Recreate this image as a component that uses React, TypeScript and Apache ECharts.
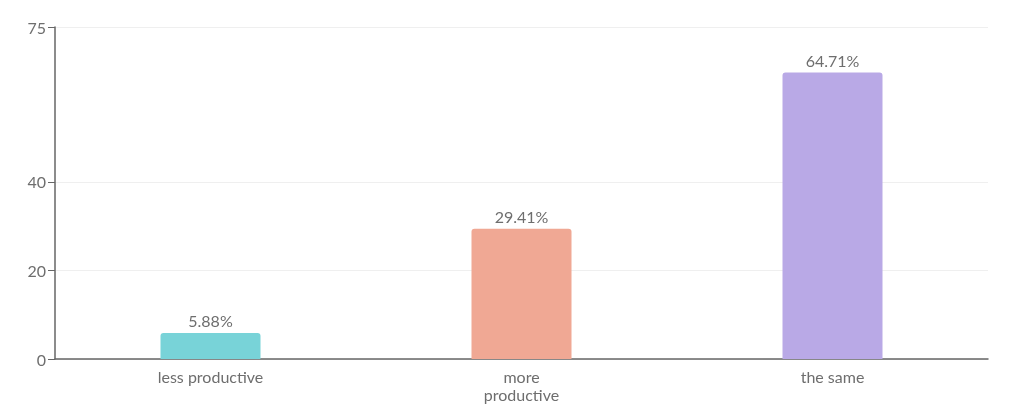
import React, { useEffect, useRef } from 'react';
import * as echarts from 'echarts';

const categories = ['less productive', 'more\nproductive', 'the same'];
const values = [5.88, 29.41, 64.71];
const barColors = ['#78d3d8', '#f0a894', '#b9a9e6'];
const yTicks = [0, 20, 40, 75];

const App: React.FC = () => {
    const chartRef = useRef<HTMLDivElement>(null);

    useEffect(() => {
        if (!chartRef.current) return;
        const chart = echarts.init(chartRef.current, null, { renderer: 'svg' });

        const textColor = '#6e6e6e';
        const font = 'Lato, "Noto Sans", sans-serif';

        const option: echarts.EChartsOption = {
            animation: false,
            grid: { left: 55, right: 36, top: 27, bottom: 58, containLabel: false },
            xAxis: {
                type: 'category',
                data: categories,
                axisLine: { lineStyle: { color: '#666', width: 1.5 } },
                axisTick: { alignWithLabel: true, length: 5, lineStyle: { color: '#666' } },
                axisLabel: {
                    color: textColor,
                    fontFamily: font,
                    fontSize: 16,
                    margin: 8,
                    lineHeight: 18,
                },
            },
            yAxis: {
                type: 'value',
                min: 0,
                max: 75,
                axisLine: { show: true, lineStyle: { color: '#666', width: 1.5 } },
                axisTick: { show: true, length: 7, customValues: yTicks, lineStyle: { color: '#666' } },
                axisLabel: {
                    customValues: yTicks,
                    color: textColor,
                    fontFamily: font,
                    fontSize: 16,
                    margin: 9,
                },
                splitLine: { show: true, lineStyle: { color: '#efefef', width: 1 } },
            },
            series: [
                {
                    type: 'bar',
                    barWidth: 100,
                    data: values.map((v, i) => ({
                        value: v,
                        itemStyle: { color: barColors[i], borderRadius: [3, 3, 0, 0] },
                    })),
                    label: {
                        show: true,
                        position: 'top',
                        distance: 4,
                        color: textColor,
                        fontFamily: font,
                        fontSize: 16,
                        formatter: (p: any) => `${Number(p.value).toFixed(2)}%`,
                    },
                },
            ],
        };

        chart.setOption(option);
        const handleResize = () => chart.resize();
        window.addEventListener('resize', handleResize);
        return () => {
            window.removeEventListener('resize', handleResize);
            chart.dispose();
        };
    }, []);

    return <div ref={chartRef} style={{ position: 'fixed', left: 0, top: 0, width: 1024, height: 417 }} />;
};

export default App;
